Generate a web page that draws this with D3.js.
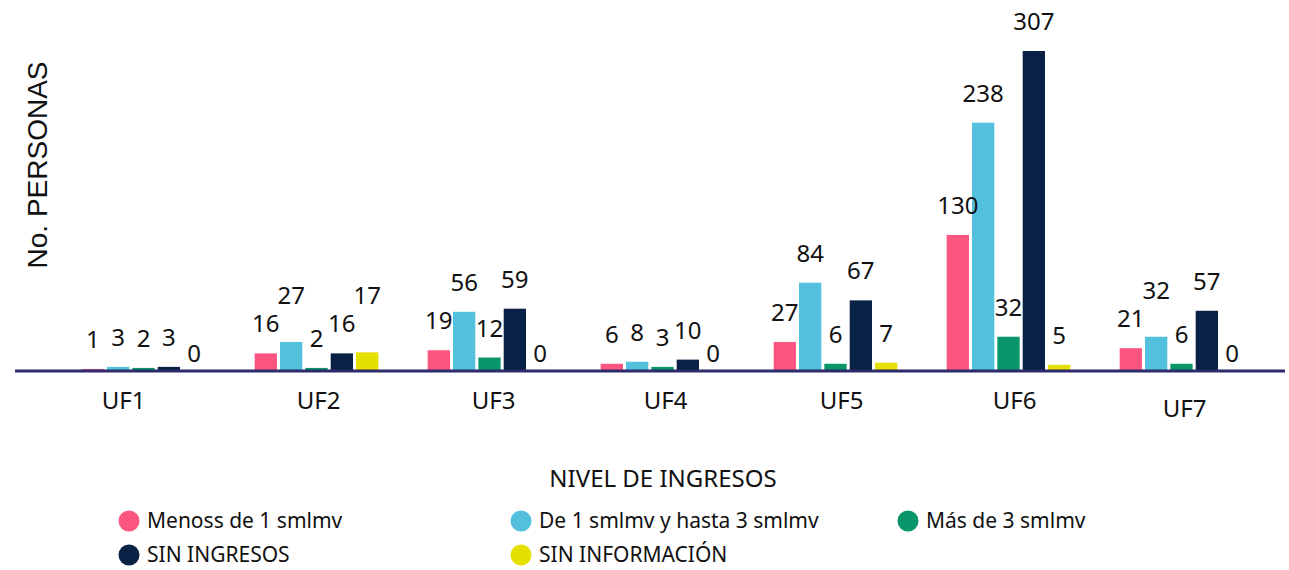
<!DOCTYPE html>
<html>
<head>
<meta charset="utf-8">
<script src="https://cdn.jsdelivr.net/npm/d3@7"></script>
<style>
  body { margin: 0; background: #fff; }
  svg { display: block; }
</style>
</head>
<body>
<script>
// Data
var categories = ["UF1", "UF2", "UF3", "UF4", "UF5", "UF6", "UF7"];
var seriesNames = ["Menoss de 1 smlmv", "De 1 smlmv y hasta 3 smlmv", "Más de 3 smlmv", "SIN INGRESOS", "SIN INFORMACIÓN"];
var menos1 = [1, 16, 19, 6, 27, 130, 21];
var de1a3 = [3, 27, 56, 8, 84, 238, 32];
var mas3 = [2, 2, 12, 3, 6, 32, 6];
var sinIngresos = [3, 16, 59, 10, 67, 307, 57];
var sinInfo = [0, 17, 0, 0, 7, 5, 0];
var seriesValues = [menos1, de1a3, mas3, sinIngresos, sinInfo];
var colors = ["#fc5580", "#53c1de", "#08966a", "#0a2146", "#e6e000"];

// the category labels in the original are nudged a bit (hand placed)
var catLabelShift = [[-20, 0], [2, 0], [4, 0], [3, 0], [6, 0], [6, 0], [3, 8]];

var W = 1289, H = 570;
var font = "'Noto Sans', sans-serif";

var svg = d3.select("body").append("svg")
    .attr("width", W)
    .attr("height", H);

// Scales
var x0 = d3.scaleBand()
    .domain(categories)
    .range([57, 1268])
    .paddingInner(0.25)
    .paddingOuter(0.125);

var x1 = d3.scaleBand()
    .domain(d3.range(seriesNames.length))
    .range([0, x0.bandwidth()])
    .padding(0.12);

var y = d3.scaleLinear()
    .domain([0, 307])
    .range([370, 51]);

// Bars
var groups = svg.selectAll(".group")
    .data(categories)
  .enter().append("g")
    .attr("class", "group")
    .attr("transform", function(d) { return "translate(" + x0(d) + ",0)"; });

function groupData(d, i) {
  return seriesValues.map(function(s, k) { return {k: k, v: s[i]}; });
}

groups.selectAll("rect")
    .data(groupData)
  .enter().append("rect")
    .attr("x", function(d) { return x1(d.k); })
    .attr("width", x1.bandwidth())
    .attr("y", function(d) { return y(d.v); })
    .attr("height", function(d) { return y(0) - y(d.v); })
    .attr("fill", function(d) { return colors[d.k]; });

// Value labels, pushed up when they run into the neighbour on the left
groups.each(function(c, gi) {
  var g = d3.select(this);
  var prev = null;
  groupData(c, gi).forEach(function(d) {
    var cx = x1(d.k) + x1.bandwidth() / 2;
    var t = g.append("text")
        .attr("x", cx)
        .attr("text-anchor", "middle")
        .style("font-family", font)
        .style("font-size", "24px")
        .style("fill", "#111")
        .text(d.v);
    var w = t.node().getComputedTextLength();
    // zero labels sit just above the axis
    var by = d.v === 0 ? y(0) - 8 : y(d.v) - 21;
    if (prev && Math.abs(cx - prev.cx) < (w + prev.w) / 2 + 1 && Math.abs(by - prev.by) < 26) {
      by = prev.by - 28;
    }
    t.attr("y", by);
    prev = {cx: cx, w: w, by: by};
  });
});

// X axis line
svg.append("line")
    .attr("x1", 15).attr("x2", 1285)
    .attr("y1", 371).attr("y2", 371)
    .attr("stroke", "#2d2b6b")
    .attr("stroke-width", 3);

// Category labels
var xAxis = svg.append("g")
    .attr("transform", "translate(0,371)")
    .call(d3.axisBottom(x0).tickSize(0).tickPadding(21));
xAxis.select(".domain").remove();
xAxis.selectAll("text")
    .style("font-family", font)
    .style("font-size", "24px")
    .style("fill", "#111")
    .attr("transform", function(d, i) {
      return "translate(" + catLabelShift[i][0] + "," + catLabelShift[i][1] + ")";
    });

// Axis titles
svg.append("text")
    .attr("transform", "translate(47,165) rotate(-90)")
    .attr("text-anchor", "middle")
    .style("font-family", "'Liberation Sans', Arial, sans-serif")
    .style("font-size", "28px")
    .style("fill", "#111")
    .text("No. PERSONAS");

svg.append("text")
    .attr("x", 663)
    .attr("y", 487)
    .attr("text-anchor", "middle")
    .style("font-family", font)
    .style("font-size", "24px")
    .style("fill", "#111")
    .text("NIVEL DE INGRESOS");

// Legend
var legendPos = [[129, 521], [521, 521], [908, 521], [129, 555], [521, 555]];
var legend = svg.selectAll(".legend")
    .data(seriesNames)
  .enter().append("g")
    .attr("class", "legend")
    .attr("transform", function(d, i) { return "translate(" + legendPos[i][0] + "," + legendPos[i][1] + ")"; });

legend.append("circle")
    .attr("r", 10.5)
    .attr("fill", function(d, i) { return colors[i]; });

legend.append("text")
    .attr("x", 18)
    .attr("dy", "0.35em")
    .style("font-family", font)
    .style("font-size", "21px")
    .style("fill", "#111")
    .text(function(d) { return d; });
</script>
</body>
</html>
